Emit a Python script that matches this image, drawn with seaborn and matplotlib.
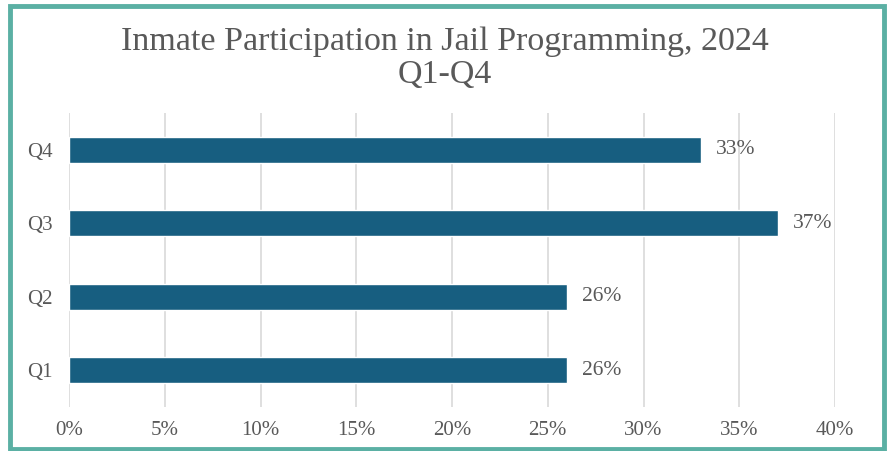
import matplotlib
matplotlib.use("Agg")
import matplotlib.pyplot as plt
from matplotlib.patches import Rectangle
from matplotlib.ticker import FuncFormatter
import seaborn as sns
import pandas as pd

quarters = ["Q4", "Q3", "Q2", "Q1"]
participation = [33, 37, 26, 26]
x_ticks = [0, 5, 10, 15, 20, 25, 30, 35, 40]

sns.set_theme(style="white")
plt.rcParams["font.family"] = ["Liberation Serif", "DejaVu Serif"]

df = pd.DataFrame({"quarter": quarters, "pct": participation})

W, H = 890, 451
fig = plt.figure(figsize=(W / 100, H / 100), dpi=100)
ax = fig.add_axes([69 / W, 1 - 407 / H, (835 - 69) / W, (407 - 113) / H])

sns.barplot(data=df, x="pct", y="quarter", order=quarters, color="#175E80",
            width=0.355, saturation=1, ax=ax, zorder=3)

ax.set_xlim(0, 40)
ax.set_ylim(3.5, -0.5)
ax.set_xticks(x_ticks)
ax.xaxis.set_major_formatter(FuncFormatter(lambda v, p: f"{v:.0f}%"))
ax.grid(axis="x", color="#D9D9D9", linewidth=1.2, zorder=0)
ax.grid(axis="y", visible=False)
for s in ax.spines.values():
    s.set_visible(False)
ax.tick_params(axis="both", length=0, labelsize=15, colors="#595959")
ax.tick_params(axis="x", pad=10)
ax.tick_params(axis="y", pad=12)
ax.set_xlabel("")
ax.set_ylabel("")

for i, v in enumerate(participation):
    ax.annotate(f"{v}%", xy=(v, i), xytext=(11, 0), textcoords="offset points",
                va="center", ha="left", fontsize=15.5, color="#595959")

fig.text(0.5, 1 - 58 / H, "Inmate Participation in Jail Programming, 2024\nQ1-Q4",
         ha="center", va="center", fontsize=24.5, color="#595959", linespacing=1.1)

fig.patches.append(Rectangle((9.5 / W, 1 - 449 / H), (884 - 9.5) / W, (449 - 6) / H,
                             transform=fig.transFigure, fill=False,
                             edgecolor="#5BB0A4", linewidth=3.5))

fig.savefig("out.png", dpi=100)
